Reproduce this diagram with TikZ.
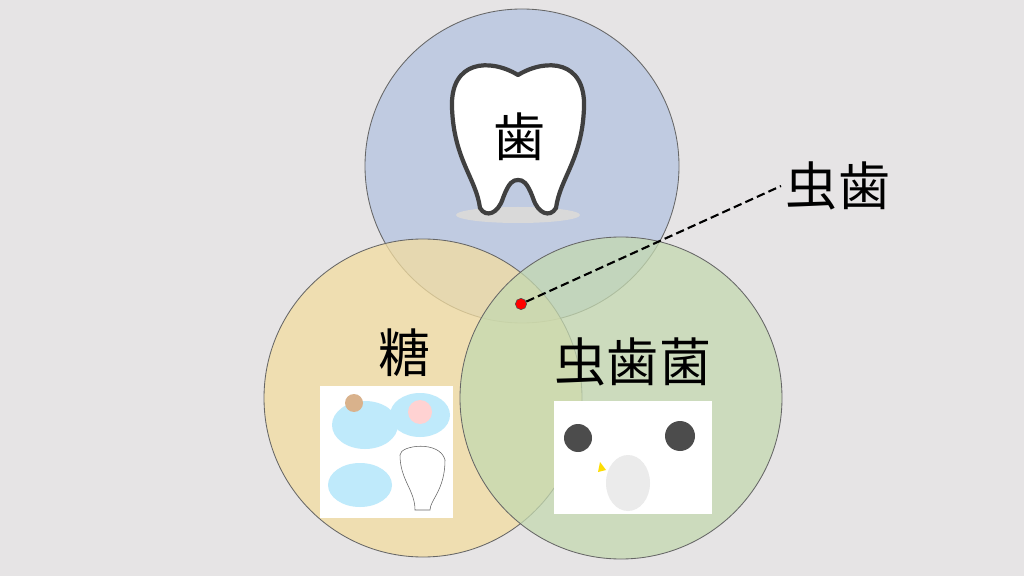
\documentclass[tikz,border=0pt]{standalone}
\usepackage{fontspec}
\newfontfamily\cjk{Noto Sans CJK JP}
\definecolor{bg}{HTML}{E6E4E5}
\definecolor{cblue}{HTML}{B4C3E0}
\definecolor{cyel}{HTML}{F3DDA0}
\definecolor{cgreen}{HTML}{C4D9B0}
\tikzset{
  venn/.style={draw=black!60,line width=0.6pt,fill opacity=0.75},
  lbl/.style={font=\cjk\fontsize{37}{37}\selectfont,text=black}
}
\begin{document}
\begin{tikzpicture}[x=0.025cm,y=-0.025cm]

% Hintergrund
\fill[bg] (0,0) rectangle (1024,576);
\useasboundingbox (0,0) rectangle (1024,576);

% Kreise
\draw[venn,fill=cblue] (522,166) circle (157);
\draw[venn,fill=cyel] (423,398) circle (159);
\draw[venn,fill=cgreen] (621,398) circle (161);

% Zahn
\fill[black!15] (518,215) ellipse (62 and 8);
\draw[line width=3pt,draw=black!75,fill=white,line join=round]
  (518,75) .. controls (490,58) and (450,60) .. (452,108)
  .. controls (454,160) and (476,178) .. (480,208)
  .. controls (486,218) and (498,214) .. (503,198)
  .. controls (509,182) and (513,180) .. (518,180)
  .. controls (523,180) and (527,182) .. (533,198)
  .. controls (538,214) and (550,218) .. (556,208)
  .. controls (560,178) and (582,160) .. (584,108)
  .. controls (586,60) and (546,58) .. (518,75) -- cycle;
\node[lbl] (zahn) at (520,137) {歯};

% Bilder
\fill[white] (320,386) rectangle (453,518);
\fill[cyan!25] (365,425) ellipse (33 and 24);
\fill[cyan!25] (420,415) ellipse (30 and 22);
\fill[cyan!25] (360,485) ellipse (32 and 22);
\fill[brown!60] (354,403) circle (9);
\fill[pink!70] (420,412) circle (12);
\draw[black!60,fill=white] (400,455) .. controls (400,445) and (440,440) .. (445,460)
  .. controls (445,490) and (430,500) .. (430,510) -- (415,510)
  .. controls (415,490) and (400,480) .. (400,455) -- cycle;
\fill[white] (554,401) rectangle (712,514);
\fill[black!70] (578,438) circle (14);
\fill[black!70] (680,436) circle (15);
\fill[black!8] (628,483) ellipse (22 and 28);
\fill[yellow!80!orange] (600,462) -- (606,470) -- (598,472) -- cycle;

% Beschriftungen
\node[lbl] (zucker) at (405,353) {糖};
\node[lbl] (bakt) at (633,362) {虫歯菌};
\node[lbl] (karies) at (838,186) {虫歯};

% Punkt
\node[circle,fill=red,draw=black!70,inner sep=0pt,minimum size=8pt] (pkt) at (521,304) {};
\draw[dash pattern=on 6pt off 3pt,line width=1.5pt] (pkt) -- (karies.west);
\end{tikzpicture}
\end{document}
